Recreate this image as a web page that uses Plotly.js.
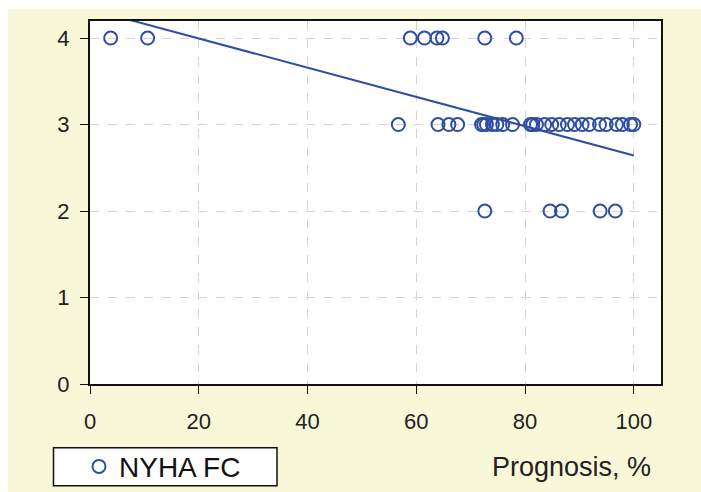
<!DOCTYPE html>
<html>
<head>
<meta charset="utf-8">
<script src="https://cdn.plot.ly/plotly-3.0.1.min.js"></script>
<style>html,body{margin:0;padding:0;background:#fff;}#chart{width:701px;height:492px;}</style>
</head>
<body>
<div id="chart"></div>
<script>
// NYHA FC = 4
const prognosisFC4 = [3.8, 10.6, 58.9, 61.5, 63.8, 64.8, 72.6, 78.4];
// NYHA FC = 3
const prognosisFC3 = [56.7, 64.0, 66.0, 67.6, 72.0, 72.4, 72.9, 74.0, 74.8, 75.9, 77.7, 81.0, 81.4, 82.1, 83.6, 84.9, 86.3, 87.8, 89.1, 90.5, 91.8, 93.7, 94.9, 96.8, 97.9, 99.4, 100.0];
// NYHA FC = 2
const prognosisFC2 = [72.6, 84.6, 86.7, 93.8, 96.6];
// linear fit line endpoints
const fitX = [5.8, 100];
const fitY = [4.235, 2.643];
const xTicks = [0, 20, 40, 60, 80, 100];
const yTicks = [0, 1, 2, 3, 4];

const ptsX = [].concat(prognosisFC4, prognosisFC3, prognosisFC2);
const ptsY = [].concat(prognosisFC4.map(() => 4), prognosisFC3.map(() => 3), prognosisFC2.map(() => 2));

const blue = '#2f4ea3';
const font = 'Liberation Sans, Arial, sans-serif';

const traces = [
  {
    x: ptsX, y: ptsY, type: 'scatter', mode: 'markers', name: 'NYHA FC',
    marker: {symbol: 'circle-open', size: 13, color: blue, line: {width: 2, color: blue}},
    cliponaxis: false
  },
  {
    x: fitX, y: fitY, type: 'scatter', mode: 'lines', showlegend: false,
    line: {color: blue, width: 2}
  }
];

const L = 90, R = 661, T = 21.3, B = 384.3;
const W = R - L, H = B - T;
const px = v => (v - L) / W;
const py = v => (B - v) / H;

const layout = {
  width: 701, height: 492,
  margin: {l: L, r: 701 - R, t: T, b: 492 - B, pad: 0, autoexpand: false},
  paper_bgcolor: '#f8f8d8',
  plot_bgcolor: '#ffffff',
  font: {family: font, color: '#222222'},
  showlegend: true,
  legend: {
    x: px(79), xanchor: 'left', y: py(467), yanchor: 'middle',
    bgcolor: 'rgba(0,0,0,0)', borderwidth: 0,
    font: {size: 28, family: font, color: '#111111'}
  },
  xaxis: {
    range: [0, 105], tickvals: xTicks, ticktext: xTicks.map(String),
    showline: true, mirror: true, linecolor: '#111111', linewidth: 2,
    ticks: 'outside', ticklen: 8, tickwidth: 1, tickcolor: '#111111',
    ticklabelstandoff: 9,
    showgrid: true, gridcolor: '#d4d4d4', gridwidth: 1, griddash: 'dash',
    zeroline: false, tickfont: {size: 22, family: font, color: '#222222'},
    fixedrange: true
  },
  yaxis: {
    range: [0, 4.197], tickvals: yTicks, ticktext: yTicks.map(String),
    showline: true, mirror: true, linecolor: '#111111', linewidth: 2,
    ticks: 'outside', ticklen: 8, tickwidth: 1, tickcolor: '#111111',
    ticklabelstandoff: 6,
    showgrid: true, gridcolor: '#d4d4d4', gridwidth: 1, griddash: 'dash',
    zeroline: false, tickfont: {size: 22, family: font, color: '#222222'},
    fixedrange: true
  },
  shapes: [
    {type: 'rect', xref: 'paper', yref: 'paper', layer: 'below',
     x0: px(0), x1: px(701), y0: py(9), y1: py(0),
     fillcolor: '#ffffff', line: {width: 0}},
    {type: 'rect', xref: 'paper', yref: 'paper', layer: 'below',
     x0: px(0), x1: px(8), y0: py(492), y1: py(0),
     fillcolor: '#ffffff', line: {width: 0}},
    {type: 'rect', xref: 'paper', yref: 'paper', layer: 'below',
     x0: px(53.5), x1: px(277), y0: py(486), y1: py(448),
     fillcolor: '#ffffff', line: {width: 1.5, color: '#111111'}}
  ],
  annotations: [
    {text: 'Prognosis, %', xref: 'paper', yref: 'paper',
     x: px(653), xanchor: 'right', y: py(467), yanchor: 'middle',
     showarrow: false, font: {size: 27, family: font, color: '#222222'}}
  ]
};

Plotly.newPlot('chart', traces, layout, {displayModeBar: false, staticPlot: true});
</script>
</body>
</html>
